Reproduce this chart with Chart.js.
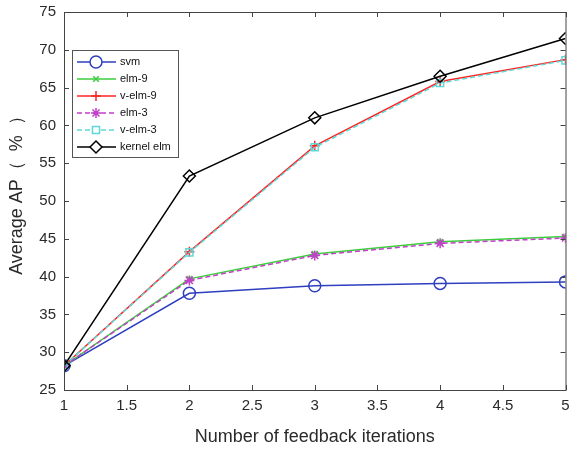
<html>
<head>
  <title></title>
  <style>
    body { margin: 0; background: #fff; }
  </style>
</head>
<body>
  <div>
  <canvas id="myChart" width="573" height="452"></canvas>
</div>

<script src="https://cdn.jsdelivr.net/npm/chart.js"></script>

<script>
  const iterations = [1, 2, 3, 4, 5]
  const svm = [28.2, 37.8, 38.8, 39.1, 39.3]
  const elm9 = [28.2, 39.7, 43.0, 44.6, 45.3]
  const velm9 = [28.2, 43.3, 57.3, 65.8, 68.7]
  const elm3 = [28.2, 39.5, 42.8, 44.4, 45.1]
  const velm3 = [28.2, 43.2, 57.1, 65.6, 68.6]
  const kernelElm = [28.2, 53.3, 61.0, 66.5, 71.5]
  const xTicks = [1, 1.5, 2, 2.5, 3, 3.5, 4, 4.5, 5]
  const yTicks = [25, 30, 35, 40, 45, 50, 55, 60, 65, 70, 75]

  const pts = vals => vals.map((v, i) => ({x: iterations[i], y: v}))

  const series = [
    {label: 'svm', data: svm, color: '#2f3fbf', style: 'circle', r: 6, dash: []},
    {label: 'elm-9', data: elm9, color: '#3ccc3c', style: 'crossRot', r: 4, dash: []},
    {label: 'v-elm-9', data: velm9, color: '#ff2424', style: 'cross', r: 5, dash: []},
    {label: 'elm-3', data: elm3, color: '#c040c8', style: 'star', r: 5, dash: [5, 3]},
    {label: 'v-elm-3', data: velm3, color: '#5fd8d8', style: 'rect', r: 5, dash: [5, 3]},
    {label: 'kernel elm', data: kernelElm, color: '#000000', style: 'rectRot', r: 6, dash: []}
  ]

  const fam = '"Liberation Sans", Arial, sans-serif'

  // box around the plot + inward ticks, matlab-like legend
  const frame = {
    id: 'frame',
    afterDraw(chart) {
      const c = chart.ctx, a = chart.chartArea
      const xs = chart.scales.x, ys = chart.scales.y
      c.save()
      c.strokeStyle = '#444'
      c.lineWidth = 1
      c.strokeRect(a.left + 0.5, a.top + 0.5, a.right - a.left, a.bottom - a.top)
      c.beginPath()
      xTicks.forEach(t => {
        const px = Math.round(xs.getPixelForValue(t)) + 0.5
        c.moveTo(px, a.bottom); c.lineTo(px, a.bottom - 5)
        c.moveTo(px, a.top); c.lineTo(px, a.top + 5)
      })
      yTicks.forEach(t => {
        const py = Math.round(ys.getPixelForValue(t)) + 0.5
        c.moveTo(a.left, py); c.lineTo(a.left + 5, py)
        c.moveTo(a.right, py); c.lineTo(a.right - 5, py)
      })
      c.stroke()

      // legend
      const lx = 72, ly = 50, lw = 106, lh = 107
      c.fillStyle = '#fff'
      c.fillRect(lx, ly, lw, lh)
      c.strokeStyle = '#555'
      c.strokeRect(lx + 0.5, ly + 0.5, lw, lh)
      c.font = '11px ' + fam
      c.textBaseline = 'middle'
      series.forEach((s, i) => {
        const y = ly + 12 + i * 17
        c.strokeStyle = s.color
        c.lineWidth = 1.5
        c.setLineDash(s.dash)
        c.beginPath(); c.moveTo(lx + 5, y); c.lineTo(lx + 44, y); c.stroke()
        c.setLineDash([])
        c.fillStyle = '#fff'
        Chart.helpers.drawPoint(c, {pointStyle: s.style, radius: s.r, borderWidth: 1.5}, lx + 24, y)
        c.fillStyle = '#111'
        c.fillText(s.label, lx + 48, y)
      })
      c.restore()
    }
  }

  const ctx = document.getElementById('myChart');
  new Chart(ctx, {
    type: 'line',
    data: {
      datasets: series.map((s, i) => ({
        label: s.label,
        data: pts(s.data),
        borderColor: s.color,
        backgroundColor: 'rgba(0,0,0,0)',
        borderWidth: 1.5,
        borderDash: s.dash,
        pointStyle: s.style,
        pointRadius: s.r,
        pointBorderWidth: 1.5,
        pointBorderColor: s.color,
        pointBackgroundColor: 'rgba(0,0,0,0)',
        tension: 0,
        order: 6 - i
      }))
    },
    options: {
      responsive: false,
      animation: false,
      layout: {padding: {top: 12, right: 3, left: 0, bottom: 0}},
      plugins: {legend: {display: false}, tooltip: {enabled: false}},
      scales: {
        x: {
          type: 'linear', min: 1, max: 5,
          afterBuildTicks: s => { s.ticks = xTicks.map(v => ({value: v})) },
          afterFit: s => { s.height = 62; s.paddingLeft = 0; s.paddingRight = 0 },
          grid: {display: false, drawTicks: false},
          border: {display: false},
          ticks: {color: '#2a2a2a', padding: 7, font: {size: 15, family: fam}, maxRotation: 0,
            callback: v => String(v)},
          title: {display: true, text: 'Number of feedback iterations', color: '#2a2a2a', font: {size: 18, family: fam}, padding: {top: 2}}
        },
        y: {
          min: 25, max: 75,
          afterBuildTicks: s => { s.ticks = yTicks.map(v => ({value: v})) },
          afterFit: s => { s.width = 64; s.paddingTop = 0; s.paddingBottom = 0 },
          grid: {display: false, drawTicks: false},
          border: {display: false},
          ticks: {color: '#2a2a2a', padding: 8, font: {size: 15, family: fam}},
          title: {display: true, text: '    Average AP（  %  ）', color: '#2a2a2a', font: {size: 18, family: fam}, padding: {top: 6, bottom: 0}}
        }
      }
    },
    plugins: [frame]
  });
</script>

</body>
</html>
